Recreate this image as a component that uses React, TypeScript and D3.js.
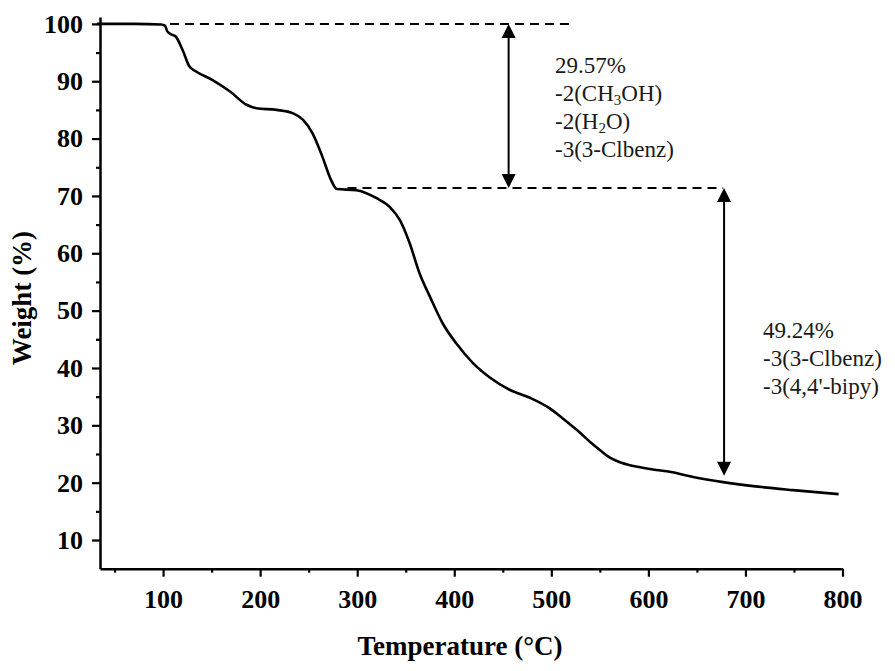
import { useEffect, useRef } from "react"
import * as d3 from "d3"

// TGA curve
const temperature = [32, 70, 98, 102, 104, 107, 113, 120, 127, 134, 151, 169, 186, 196, 217, 234, 244, 254, 264, 273, 279, 299, 320, 334, 344, 354, 364, 375, 388, 402, 419, 437, 457, 478, 498, 509, 519, 529, 540, 550, 560, 570, 582, 594, 608, 622, 646, 677, 708, 749, 796]
const weight = [100, 100, 99.9, 99.7, 98.8, 98.3, 97.8, 95.5, 92.6, 91.7, 90.2, 88.2, 85.9, 85.3, 85.0, 84.4, 83.3, 80.9, 76.9, 72.8, 71.2, 71.0, 69.6, 68.0, 65.8, 61.8, 56.6, 52.4, 47.8, 44.3, 40.9, 38.3, 36.2, 34.8, 33.0, 31.6, 30.2, 28.8, 27.1, 25.7, 24.4, 23.6, 23.0, 22.6, 22.2, 21.9, 21.0, 20.1, 19.4, 18.7, 18.0]

const xTicks = [100, 200, 300, 400, 500, 600, 700, 800]
const xMinorTicks = [50, 150, 250, 350, 450, 550, 650, 750]
const yTicks = [10, 20, 30, 40, 50, 60, 70, 80, 90, 100]
const yMinorTicks = [15, 25, 35, 45, 55, 65, 75, 85, 95]

// dashed reference levels and the arrows between them
const levelWeight = [100, 71.4]
const levelFrom = [107, 290]
const levelTo = [521, 677]
const arrowTemp = [456, 678]
const arrowFrom = [100, 71.4]
const arrowTo = [71.4, 21.2]

// annotation text; [text, subscript] pieces per line
const lossLabels = [
  [[["29.57%"]], [["-2(CH"], ["3", "sub"], ["OH)"]], [["-2(H"], ["2", "sub"], ["O)"]], [["-3(3-Clbenz)"]]],
  [[["49.24%"]], [["-3(3-Clbenz)"]], [["-3(4,4'-bipy)"]]],
]

const App = () => {
  const svgRef = useRef<SVGSVGElement>(null)

  useEffect(() => {
    const svg = d3.select(svgRef.current)
    svg.selectAll("*").remove()

    const font = "'Liberation Serif', 'Times New Roman', serif"
    const left = 100, right = 842.5, top = 17, bottom = 568.7

    const x = d3.scaleLinear().domain([35, 800]).range([left, right])
    const y = d3.scaleLinear().domain([5, 101.2]).range([bottom, top])

    // Y axis
    const yAxis = svg.append("g").attr("transform", `translate(${left},0)`)
      .call(d3.axisLeft(y).tickValues(yTicks).tickSize(8).tickSizeOuter(0).tickPadding(9))
    yAxis.append("g")
      .call(d3.axisLeft(y).tickValues(yMinorTicks).tickSize(4).tickFormat(() => ""))
      .select(".domain").remove()

    // X axis
    const xAxis = svg.append("g").attr("transform", `translate(0,${bottom})`)
      .call(d3.axisBottom(x).tickValues(xTicks).tickSize(8).tickSizeOuter(0).tickPadding(13))
    xAxis.append("g")
      .call(d3.axisBottom(x).tickValues(xMinorTicks).tickSize(4).tickFormat(() => ""))
      .select(".domain").remove()

    svg.selectAll(".domain").attr("stroke", "#000").attr("stroke-width", 2.5)
    svg.selectAll(".tick line").attr("stroke", "#000").attr("stroke-width", 2.2)
    svg.selectAll(".tick text")
      .attr("fill", "#000")
      .style("font-family", font)
      .style("font-size", "26px")
      .style("font-weight", "bold")

    // axis titles
    svg.append("text")
      .attr("x", 460).attr("y", 655)
      .attr("text-anchor", "middle")
      .style("font-family", font).style("font-size", "27px").style("font-weight", "bold")
      .text("Temperature (°C)")

    svg.append("text")
      .attr("transform", `translate(31,298) rotate(-90)`)
      .attr("text-anchor", "middle")
      .style("font-family", font).style("font-size", "27px").style("font-weight", "bold")
      .text("Weight (%)")

    // dashed levels
    levelWeight.forEach((w, i) => {
      svg.append("line")
        .attr("x1", x(levelFrom[i])).attr("x2", x(levelTo[i]))
        .attr("y1", y(w)).attr("y2", y(w))
        .attr("stroke", "#000").attr("stroke-width", 2)
        .attr("stroke-dasharray", "9,6")
    })

    // curve
    const points = temperature.map((t, i) => [t, weight[i]] as [number, number])
    const line = d3.line<[number, number]>()
      .x(d => x(d[0]))
      .y(d => y(d[1]))
      .curve(d3.curveMonotoneX)

    svg.append("path")
      .datum(points)
      .attr("fill", "none")
      .attr("stroke", "#000")
      .attr("stroke-width", 2.6)
      .attr("stroke-linejoin", "round")
      .attr("d", line)

    // double headed arrows
    const headW = 7, headH = 14
    arrowTemp.forEach((t, i) => {
      const ax = x(t), y1 = y(arrowFrom[i]), y2 = y(arrowTo[i])
      svg.append("line")
        .attr("x1", ax).attr("x2", ax)
        .attr("y1", y1 + headH - 2).attr("y2", y2 - headH + 2)
        .attr("stroke", "#000").attr("stroke-width", 2)
      svg.append("path")
        .attr("d", `M${ax},${y1} L${ax - headW},${y1 + headH} L${ax + headW},${y1 + headH} Z`)
        .attr("fill", "#000")
      svg.append("path")
        .attr("d", `M${ax},${y2} L${ax - headW},${y2 - headH} L${ax + headW},${y2 - headH} Z`)
        .attr("fill", "#000")
    })

    // mass loss labels
    const labelPos = [[555, 73], [763, 338]]
    lossLabels.forEach((block, b) => {
      block.forEach((parts, j) => {
        const txt = svg.append("text")
          .attr("x", labelPos[b][0])
          .attr("y", labelPos[b][1] + j * 28)
          .attr("fill", "#1a1a1a")
          .style("font-family", font)
          .style("font-size", "23px")
        parts.forEach(p => {
          if (p[1] === "sub") {
            txt.append("tspan").attr("dy", 4).style("font-size", "15px").text(p[0])
          } else {
            const ts = txt.append("tspan").text(p[0])
            if (parts.length > 1 && p !== parts[0]) ts.attr("dy", -4)
          }
        })
      })
    })
  }, [])

  return (
    <div style={{ position: "absolute", left: 0, top: 0 }}>
      <svg ref={svgRef} width={895} height={671} style={{ display: "block", background: "#fff" }} />
    </div>
  )
}

export default App
